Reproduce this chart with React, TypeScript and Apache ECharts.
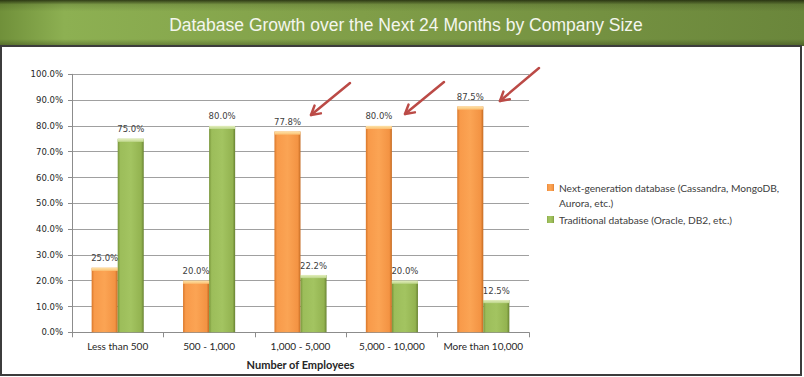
import React, { useEffect, useRef } from 'react';
import * as echarts from 'echarts';

const titleText = 'Database Growth over the Next 24 Months by Company Size';
const categories = ['Less than 500', '500 - 1,000', '1,000 - 5,000', '5,000 - 10,000', 'More than 10,000'];
const nextGenName = 'Next-generation database (Cassandra, MongoDB, Aurora, etc.)';
const tradName = 'Traditional database (Oracle, DB2, etc.)';
const nextGenValues = [25.0, 20.0, 77.8, 80.0, 87.5];
const tradValues = [75.0, 80.0, 22.2, 20.0, 12.5];
const xAxisTitle = 'Number of Employees';

// annotation arrows (tail -> head), pixel positions
const arrows = [
  { from: [350, 83], to: [311, 115] },
  { from: [444, 82], to: [405, 114] },
  { from: [539, 68], to: [500, 101] },
];

function arrowElements(color: string) {
  const els: any[] = [];
  arrows.forEach((a) => {
    const [x1, y1] = a.from;
    const [x2, y2] = a.to;
    const ang = Math.atan2(y2 - y1, x2 - x1);
    const len = 10;
    const spread = Math.PI / 6;
    const p1 = [x2 - len * Math.cos(ang - spread), y2 - len * Math.sin(ang - spread)];
    const p2 = [x2 - len * Math.cos(ang + spread), y2 - len * Math.sin(ang + spread)];
    els.push({
      type: 'line',
      z: 20,
      shape: { x1, y1, x2, y2 },
      style: { stroke: color, lineWidth: 2.5, lineCap: 'round' },
    });
    els.push({
      type: 'polyline',
      z: 20,
      shape: { points: [p1, [x2, y2], p2] },
      style: { stroke: color, lineWidth: 2.5, fill: 'none', lineCap: 'round', lineJoin: 'round' },
    });
  });
  return els;
}

export default function App() {
  const ref = useRef<HTMLDivElement>(null);
  useEffect(() => {
    document.body.style.margin = '0';
    if (!ref.current) return;
    const chart = echarts.init(ref.current, undefined, { renderer: 'svg' });
    const G = echarts.graphic.LinearGradient;
    const orangeFill = new G(0, 0, 1, 0, [
      { offset: 0, color: '#d9772a' },
      { offset: 0.1, color: '#f89a4a' },
      { offset: 0.5, color: '#fba454' },
      { offset: 0.9, color: '#f39343' },
      { offset: 1, color: '#c46a22' },
    ]);
    const greenFill = new G(0, 0, 1, 0, [
      { offset: 0, color: '#78953a' },
      { offset: 0.1, color: '#9cbd5a' },
      { offset: 0.5, color: '#a3c461' },
      { offset: 0.9, color: '#93b350' },
      { offset: 1, color: '#688232' },
    ]);
    const orangeCap = new G(0, 0, 0, 1, [
      { offset: 0, color: '#fde3a8' },
      { offset: 1, color: '#fbbf72' },
    ]);
    const greenCap = new G(0, 0, 0, 1, [
      { offset: 0, color: '#e4efbf' },
      { offset: 1, color: '#bcd588' },
    ]);
    const barCommon = {
      type: 'bar',
      barGap: '0%',
      barCategoryGap: '43%',
      label: {
        show: true,
        position: 'top',
        distance: 5,
        fontFamily: 'DejaVu Sans',
        fontSize: 8.5,
        color: '#404040',
        formatter: (p: any) => Number(p.value).toFixed(1) + '%',
      },
    };
    const capCommon = {
      type: 'pictorialBar',
      barGap: '0%',
      barCategoryGap: '43%',
      symbol: 'rect',
      symbolSize: ['100%', 3],
      symbolPosition: 'end',
      z: 5,
      silent: true,
      tooltip: { show: false },
    };
    chart.setOption({
      animation: false,
      grid: { left: 72, right: 275, top: 74.3, bottom: 44.7, containLabel: false },
      legend: [
        {
          data: [nextGenName],
          orient: 'vertical',
          left: 547,
          top: 165,
          padding: 0,
          itemWidth: 7,
          itemHeight: 7,
          itemGap: 6,
          icon: 'rect',
          formatter: () => '\nNext-generation database (Cassandra, MongoDB,\nAurora, etc.)',
          textStyle: { fontFamily: 'Lato', fontSize: 10.2, color: '#404040', lineHeight: 15 },
        },
        {
          data: [tradName],
          orient: 'vertical',
          left: 547,
          top: 212,
          padding: 0,
          itemWidth: 7,
          itemHeight: 7,
          icon: 'rect',
          textStyle: { fontFamily: 'Lato', fontSize: 10.2, color: '#404040', lineHeight: 15 },
        },
      ],
      xAxis: {
        type: 'category',
        data: categories,
        name: xAxisTitle,
        nameLocation: 'middle',
        nameGap: 27,
        nameTextStyle: { fontFamily: 'Lato', fontWeight: 'bold', fontSize: 11, color: '#262626' },
        axisLine: { lineStyle: { color: '#8c8c8c' } },
        axisTick: { show: true, length: 5, lineStyle: { color: '#8c8c8c' } },
        axisLabel: { interval: 0, fontFamily: 'Lato', fontSize: 10, color: '#262626', margin: 9 },
      },
      yAxis: {
        type: 'value',
        min: 0,
        max: 100,
        interval: 10,
        axisLine: { show: true, lineStyle: { color: '#8c8c8c' } },
        axisTick: { show: true, length: 4, lineStyle: { color: '#8c8c8c' } },
        axisLabel: {
          fontFamily: 'DejaVu Sans',
          fontSize: 8.5,
          color: '#262626',
          margin: 9,
          formatter: (v: number) => v.toFixed(1) + '%',
        },
        splitLine: { lineStyle: { color: '#a0a0a0' } },
      },
      series: [
        { ...barCommon, name: nextGenName, data: nextGenValues, itemStyle: { color: orangeFill } },
        { ...barCommon, name: tradName, data: tradValues, itemStyle: { color: greenFill } },
        { ...capCommon, name: nextGenName, data: nextGenValues, itemStyle: { color: orangeCap } },
        { ...capCommon, name: tradName, data: tradValues, itemStyle: { color: greenCap } },
      ],
      graphic: [
        {
          type: 'rect',
          z: -10,
          shape: { x: 0, y: 0, width: 804, height: 46 },
          style: {
            fill: new G(0, 0, 1, 0, [
              { offset: 0, color: '#70903a' },
              { offset: 0.08, color: '#8db052' },
              { offset: 0.45, color: '#809e48' },
              { offset: 1, color: '#6a863b' },
            ]),
          },
        },
        {
          type: 'rect',
          z: -9,
          shape: { x: 0, y: 0, width: 804, height: 46 },
          style: {
            fill: new G(0, 0, 0, 1, [
              { offset: 0, color: 'rgba(25,32,8,0.8)' },
              { offset: 0.1, color: 'rgba(25,32,8,0.15)' },
              { offset: 0.25, color: 'rgba(25,32,8,0)' },
              { offset: 0.85, color: 'rgba(25,32,8,0)' },
              { offset: 1, color: 'rgba(25,32,8,0.35)' },
            ]),
          },
        },
        {
          type: 'text',
          z: 10,
          x: 406,
          y: 25,
          style: {
            text: titleText,
            fill: '#f4f6ee',
            fontFamily: 'Liberation Sans',
            fontSize: 17.5,
            align: 'center',
            verticalAlign: 'middle',
          },
        },
        {
          type: 'rect',
          z: 30,
          shape: { x: 1, y: 46, width: 800, height: 329 },
          style: { fill: 'none', stroke: '#3c3c3c', lineWidth: 2 },
        },
        ...arrowElements('#bb4a46'),
      ],
    });
    return () => chart.dispose();
  }, []);
  return <div ref={ref} style={{ width: 804, height: 377 }} />;
}
